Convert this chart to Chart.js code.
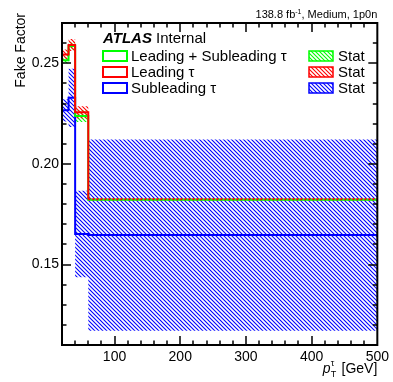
<!DOCTYPE html>
<html>
<head>
<meta charset="utf-8">
<script src="https://cdn.jsdelivr.net/npm/chart.js@4.4.1/dist/chart.umd.min.js"></script>
<style>
  html, body { margin: 0; padding: 0; background: #fff; }
</style>
</head>
<body>
<canvas id="myChart" width="393" height="382"></canvas>
<script>
// bin edges in pT (GeV)
const binEdges = [20, 30, 40, 60, 500];

// fake factors per bin + stat errors
const leadSubValues = [0.2515, 0.2586, 0.2238, 0.1822];
const leadSubErrors = [0.0015, 0.0020, 0.0030, 0.0004];
const leadValues    = [0.2543, 0.2591, 0.2256, 0.1824];
const leadErrors    = [0.0025, 0.0030, 0.0030, 0.0005];
const subValues     = [0.2266, 0.2328, 0.1652, 0.1646];
const subErrors     = [0.0055, 0.0145, 0.0215, 0.0475];

const xTickLabels = [100, 200, 300, 400, 500];
const yTickLabels = [0.15, 0.20, 0.25];

const FONT = "'Liberation Sans', Arial, Helvetica, sans-serif";
const GREEN = '#00ff00', RED = '#ff0000', BLUE = '#0000ff';

const canvas = document.getElementById('myChart');
const ctx = canvas.getContext('2d');

function makeHatch(color) {
    const s = 4;
    const c = document.createElement('canvas');
    c.width = s; c.height = s;
    const g = c.getContext('2d');
    g.strokeStyle = color;
    g.lineWidth = 1.1;
    g.beginPath();
    g.moveTo(-1, -1); g.lineTo(s + 1, s + 1);
    g.moveTo(-1, s - 1); g.lineTo(1, s + 1);
    g.moveTo(s - 1, -1); g.lineTo(s + 1, 1);
    g.stroke();
    return ctx.createPattern(c, 'repeat');
}

// histogram outline as stepped points (last value repeated at last edge)
function stepPoints(vals) {
    return binEdges.map((e, i) => ({ x: e, y: vals[Math.min(i, vals.length - 1)] }));
}

const series = [
    { name: 'Leading + Subleading τ', values: leadSubValues, errors: leadSubErrors, color: GREEN, lineOrder: 1, bandOrder: 4 },
    { name: 'Leading τ', values: leadValues, errors: leadErrors, color: RED, lineOrder: 0, bandOrder: 3 },
    { name: 'Subleading τ', values: subValues, errors: subErrors, color: BLUE, lineOrder: 2, bandOrder: 5 }
];
series.forEach(s => s.hatch = makeHatch(s.color));

const datasets = [];
series.forEach(s => {
    const up = s.values.map((v, i) => v + s.errors[i]);
    const lo = s.values.map((v, i) => v - s.errors[i]);
    datasets.push({
        data: stepPoints(up), stepped: true, fill: '+1',
        backgroundColor: s.hatch, borderColor: 'rgba(0,0,0,0)', borderWidth: 1,
        pointRadius: 0, order: s.bandOrder
    });
    datasets.push({
        data: stepPoints(lo), stepped: true, fill: false,
        borderColor: 'rgba(0,0,0,0)', borderWidth: 1,
        pointRadius: 0, order: s.bandOrder
    });
});
series.forEach(s => {
    datasets.push({
        data: stepPoints(s.values), stepped: true, fill: false,
        borderColor: s.color, borderWidth: 2, pointRadius: 0, order: s.lineOrder,
        // red and green coincide in the last bin -> alternating look in the original
        segment: s.color === RED ? { borderDash: c => c.p0DataIndex === 3 ? [2, 2] : undefined } : undefined
    });
});

const decorPlugin = {
    id: 'decor',
    afterDraw(chart) {
        const { ctx, chartArea: a, scales: { x, y } } = chart;
        ctx.save();
        ctx.strokeStyle = '#000';
        ctx.fillStyle = '#000';

        // ticks, ROOT style (inside frame, both sides)
        ctx.lineWidth = 1.5;
        ctx.beginPath();
        for (let v = 40; v < 500; v += 20) {
            const px = Math.round(x.getPixelForValue(v));
            const len = v % 100 === 0 ? 9 : 4.5;
            ctx.moveTo(px, a.bottom); ctx.lineTo(px, a.bottom - len);
            ctx.moveTo(px, a.top); ctx.lineTo(px, a.top + len);
        }
        for (let k = 12; k <= 26; k++) {
            const py = Math.round(y.getPixelForValue(k / 100));
            const len = k % 5 === 0 ? 9 : 4.5;
            ctx.moveTo(a.left, py); ctx.lineTo(a.left + len, py);
            ctx.moveTo(a.right, py); ctx.lineTo(a.right - len, py);
        }
        ctx.stroke();

        // frame
        ctx.lineWidth = 2;
        ctx.strokeRect(a.left, a.top, a.right - a.left, a.bottom - a.top);

        // ATLAS label
        ctx.textBaseline = 'alphabetic';
        ctx.textAlign = 'left';
        ctx.font = 'italic bold 15px ' + FONT;
        ctx.fillText('ATLAS', 103, 43);
        const w = ctx.measureText('ATLAS ').width;
        ctx.font = '15px ' + FONT;
        ctx.fillText('Internal', 103 + w, 43);

        // legend
        const rowY = [56, 72, 88];
        series.forEach((s, i) => {
            const cy = rowY[i];
            ctx.lineWidth = 2;
            ctx.fillStyle = '#fff';
            ctx.fillRect(103, cy - 5, 24, 10);
            ctx.strokeStyle = s.color;
            ctx.strokeRect(103, cy - 5, 24, 10);
            ctx.fillStyle = s.hatch;
            ctx.fillRect(309, cy - 5, 24, 10);
            ctx.lineWidth = 1.5;
            ctx.strokeRect(309, cy - 5, 24, 10);
            ctx.fillStyle = '#000';
            ctx.font = '15px ' + FONT;
            ctx.fillText(s.name, 131, cy + 5);
            ctx.fillText('Stat', 338, cy + 5);
        });

        // top right luminosity text
        const parts = [
            { t: '138.8 fb', f: '11px ' + FONT, dy: 0 },
            { t: '-1', f: '7px ' + FONT, dy: -4 },
            { t: ', Medium, 1p0n', f: '11px ' + FONT, dy: 0 }
        ];
        let tot = 0;
        parts.forEach(p => { ctx.font = p.f; p.w = ctx.measureText(p.t).width; tot += p.w; });
        let px = a.right - tot;
        parts.forEach(p => { ctx.font = p.f; ctx.fillText(p.t, px, 18 + p.dy); px += p.w; });

        // x title: p_T^tau [GeV]
        ctx.font = '14px ' + FONT;
        const gev = ' [GeV]';
        const gw = ctx.measureText(gev).width;
        ctx.font = 'italic 14px ' + FONT;
        const pw = ctx.measureText('p').width;
        const sw = 7;
        let xs = a.right - gw - sw - pw;
        ctx.fillText('p', xs, 373);
        ctx.font = '9px ' + FONT;
        ctx.fillText('T', xs + pw, 377);
        ctx.fillText('τ', xs + pw, 366);
        ctx.font = '14px ' + FONT;
        ctx.fillText(gev, xs + pw + sw, 373);

        // y title
        ctx.translate(25, 13);
        ctx.rotate(-Math.PI / 2);
        ctx.textAlign = 'right';
        ctx.font = '14px ' + FONT;
        ctx.fillText('Fake Factor', 0, 0);
        ctx.restore();
    }
};

new Chart(ctx, {
    type: 'line',
    data: { datasets: datasets },
    options: {
        responsive: false,
        animation: false,
        layout: { padding: { top: 23, right: 14, left: 0, bottom: 0 } },
        plugins: { legend: { display: false }, tooltip: { enabled: false } },
        scales: {
            x: {
                type: 'linear', min: 20, max: 500,
                grid: { display: false, drawTicks: false },
                border: { display: false },
                afterBuildTicks: s => { s.ticks = xTickLabels.map(v => ({ value: v })); },
                afterFit: s => { s.height = 37; },
                ticks: {
                    autoSkip: false, maxRotation: 0, padding: 4, color: '#000',
                    font: { family: FONT, size: 14 },
                    callback: v => String(v)
                }
            },
            y: {
                type: 'linear', min: 0.11, max: 0.27,
                grid: { display: false, drawTicks: false },
                border: { display: false },
                afterBuildTicks: s => { s.ticks = yTickLabels.map(v => ({ value: v })); },
                afterFit: s => { s.width = 62; },
                ticks: {
                    autoSkip: false, padding: 3, color: '#000',
                    font: { family: FONT, size: 14 },
                    callback: v => v.toFixed(2)
                }
            }
        }
    },
    plugins: [decorPlugin]
});
</script>
</body>
</html>
